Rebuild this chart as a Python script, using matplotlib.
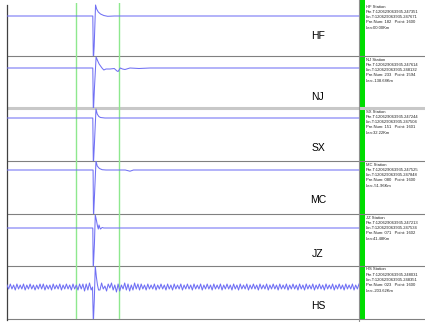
import numpy as np
import matplotlib
matplotlib.use("Agg")
import matplotlib.pyplot as plt

plt.rcParams['font.family'] = ['Liberation Sans', 'DejaVu Sans']

# ---------------- data ----------------
stations = ["HF", "NJ", "SX", "MC", "JZ", "HS"]
info_pre_t = ["120629063935.247351", "120629063935.247614", "120629063935.247244",
              "120629063935.247525", "120629063935.247213", "120629063935.248031"]
info_lin_t = ["120629063935.247671", "120629063935.248132", "120629063935.247504",
              "120629063935.247848", "120629063935.247534", "120629063935.248351"]
info_pre_num = ["182", "233", "151", "080", "071", "023"]
info_point = ["1600", "1594", "1601", "1600", "1602", "1600"]
info_len = ["00.00Km", "-138.68Km", "32.22Km", "-51.96Km", "41.48Km", "-203.62Km"]

x_max = 6400
marker_samples = [1255, 2040]

hf_x = [0, 1560, 1570, 1585, 1610, 1630, 1660, 1700, 1760, 1830, 1950, 6400]
hf_y = [0, 0, -45, -30, 11, 7, 4, 2, 0.5, -0.3, 0, 0]

nj_x = [0, 1560, 1570, 1590, 1620, 1650, 1675, 1727, 1760, 1800, 1873, 1950, 2000, 2020, 2060, 2100, 2145, 2236, 2400, 2600, 6400]
nj_y = [0, 0, -45, -20, 11, 7, 4, 0, -2, -1, -1, -0.5, -3, -3.5, 0, -1, -1.5, 0, -0.5, 0, 0]

sx_x = [0, 1560, 1570, 1590, 1618, 1640, 1670, 1700, 1780, 6400]
sx_y = [0, 0, -48, -25, 9, 4, 1.5, 0.5, 0, 0]

mc_x = [0, 1565, 1573, 1595, 1618, 1640, 1680, 1730, 1800, 2150, 2236, 2300, 6400]
mc_y = [0, 0, -48, -20, 9, 4, 1.5, 0.3, 0, 0, -1.2, 0, 0]

jz_x = [0, 1560, 1568, 1590, 1605, 1625, 1645, 1660, 1673, 1690, 1700, 1730, 1760, 6400]
jz_y = [0, 0, -42, -15, 13, 8, 2, -1, 3, 0, -1, 0.5, 0, 0]

hs_pre = [2, -2, 3, -2, 2, -3, 3, -2, 2, -2,
          3, -3, 2, -2, 3, -2, 2, -3, 2, -2,
          3, -2, 3, -3, 2, -2, 2, -3, 3, -2,
          2, -2, 3, -3, 2, -2, 3, -2, 2, -3,
          3, -2, 2, -3, 3, -2, 3, -4, 3, -3,
          4, -3]
hs_spike_x = [1555, 1570, 1588, 1605, 1625, 1645, 1665]
hs_spike_y = [0, -36, -12, 21, 10, 2, -3]
hs_post = [-3, 4, -2, 1, -4, 3, -1, 4, -3, 2, -5, 3, -4, 2, -2, 4, -3, 3, -4, 2, -3, 4, -2, 3, -3,
           3, -2, 2, -3, 3, -2, 2, -2, 3, -3,
           2, -2, 3, -2, 2, -3, 3, -2, 2, -3,
           3, -2, 2, -2, 3, -3, 2, -2, 3, -2,
           2, -3, 3, -2, 2, -2, 3, -3, 2, -2,
           3, -2, 2, -3, 3, -2, 2, -2, 3, -3,
           2, -2, 3, -2, 2, -3, 3, -2, 2, -3,
           3, -2, 2, -2, 3, -3, 2, -2, 3, -2,
           2, -3, 3, -2, 2, -2, 3, -3, 2, -2,
           3, -2, 2, -3, 3, -2, 2, -2, 3, -3,
           2, -2, 3, -2, 2, -3, 3, -2, 2, -3,
           3, -2, 2, -2, 3, -3, 2, -2, 3, -2,
           2, -3, 3, -2, 2, -2, 3, -3, 2, -2,
           3, -2, 2, -3, 3, -2, 2, -2, 3, -3,
           2, -2, 3]
hs_step = 30
hs_post_start = 1690

hs_x = list(np.arange(len(hs_pre)) * hs_step) + hs_spike_x + \
       list(hs_post_start + np.arange(len(hs_post)) * hs_step)
hs_y = hs_pre + hs_spike_y + hs_post

signals_x = [hf_x, nj_x, sx_x, mc_x, jz_x, hs_x]
signals_y = [hf_y, nj_y, sx_y, mc_y, jz_y, hs_y]

# ---------------- layout ----------------
W, H = 425, 322
fig = plt.figure(figsize=(W / 100, H / 100), dpi=100)
fig.patch.set_facecolor("white")

panel_tops = [3, 56, 108, 161, 214, 266]
panel_bottom = 319
baseline_off = [13, 12, 10, 9, 14, 21]   # px from panel top to baseline
label_y = [36, 97, 148, 200, 254, 306]
plot_left, plot_right = 7, 359

bg = fig.add_axes([0, 0, 1, 1])
bg.set_xlim(0, W)
bg.set_ylim(H, 0)
bg.axis("off")

line_color = "#7070f4"
for i, st in enumerate(stations):
    top = panel_tops[i]
    bot = panel_tops[i + 1] if i + 1 < len(panel_tops) else panel_bottom
    ax = fig.add_axes([plot_left / W, 1 - bot / H, (plot_right - plot_left) / W, (bot - top) / H])
    ax.set_xlim(0, x_max)
    b = baseline_off[i]
    ax.set_ylim(-(bot - top - b), b)
    ax.axis("off")
    ax.patch.set_alpha(0)
    for m in marker_samples:
        ax.axvline(m, color="#8ee88e", lw=1.0, zorder=1)
    ax.plot(signals_x[i], signals_y[i], color=line_color, lw=0.75, zorder=2)

    # station label
    bg.text(318, label_y[i], st, ha="center", va="center", fontsize=7.5, color="black")
    # info text
    lines = [f"{st} Station",
             f"Pre.T:{info_pre_t[i]}",
             f"Lin.T:{info_lin_t[i]}",
             f"Pre.Num: {info_pre_num[i]}   Point: {info_point[i]}",
             f"Len:{info_len[i]}"]
    for k, t in enumerate(lines):
        bg.text(366, top + 3.5 + k * 5.3, t, ha="left", va="center", fontsize=3.0, color="#222222")

# separators
for i, y in enumerate(panel_tops[1:]):
    if y == 108:
        bg.plot([plot_left, W], [y, y], color="#c8c8c8", lw=2.2, solid_capstyle="butt")
    else:
        bg.plot([plot_left, W], [y, y], color="#808080", lw=0.8, solid_capstyle="butt")
bg.plot([plot_left, W], [panel_bottom, panel_bottom], color="#808080", lw=0.8)
bg.plot([plot_left, plot_left], [5, 320], color="#404040", lw=0.9)
bg.plot([359, 359], [0, H], color="#909090", lw=0.8)
bg.add_patch(plt.Rectangle((360, 0), 5, 320, color="#00dd00", lw=0))

fig.savefig("out.png", dpi=100)
